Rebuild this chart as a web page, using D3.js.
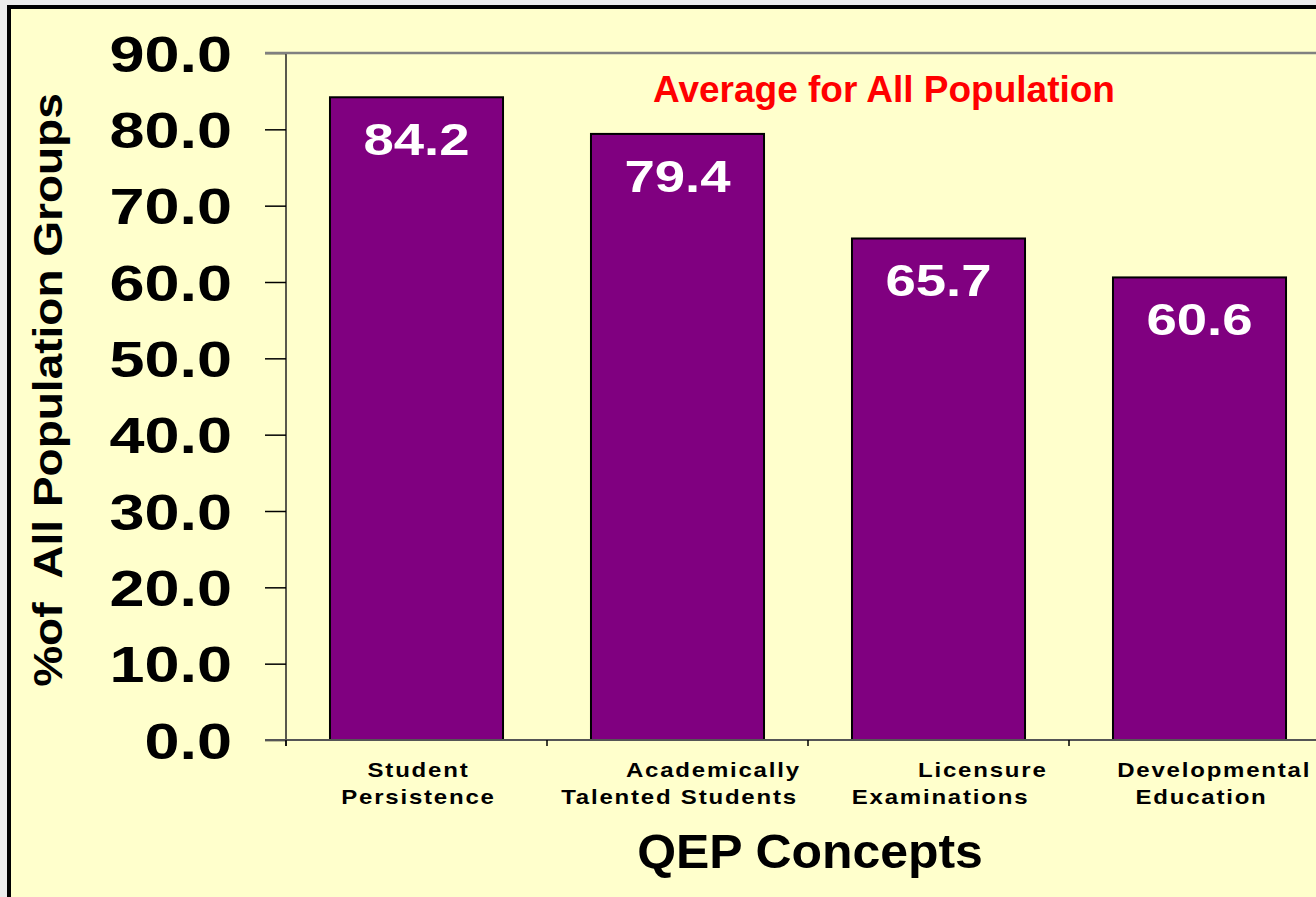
<!DOCTYPE html>
<html>
<head>
<meta charset="utf-8">
<script src="https://cdn.jsdelivr.net/npm/d3@7"></script>
<style>
  html, body { margin: 0; padding: 0; background: #ececec; overflow: hidden; }
  svg { display: block; }
  text { font-family: Arial, "Liberation Sans", sans-serif; font-weight: bold; white-space: pre; }
</style>
</head>
<body>
<svg id="chart" width="1316" height="897"></svg>
<script>
// QEP concept averages across all population groups
const categories = [
  "Student Persistence",
  "Academically Talented Students",
  "Licensure Examinations",
  "Developmental Education"
];
const values = [84.2, 79.4, 65.7, 60.6];
// wrapped axis label lines (leading spaces kept as in the workbook labels)
const categoryLines = [
  ["Student", "Persistence"],
  ["\u00a0\u00a0\u00a0\u00a0\u00a0\u00a0\u00a0\u00a0Academically", "Talented Students"],
  ["\u00a0\u00a0\u00a0\u00a0\u00a0\u00a0\u00a0\u00a0\u00a0\u00a0Licensure", "Examinations"],
  ["\u00a0\u00a0\u00a0Developmental", "Education"]
];
const yTicks = [0, 10, 20, 30, 40, 50, 60, 70, 80, 90];
const chartTitle = "Average for All Population";
const xTitle = "QEP Concepts";
const yTitle = "%of  All Population Groups";

const svg = d3.select("#chart");
const W = 1316, H = 897;

// frame
svg.append("rect")
  .attr("x", 9).attr("y", 7)
  .attr("width", W + 20).attr("height", H + 20)
  .attr("fill", "#FFFFCC")
  .attr("stroke", "#000").attr("stroke-width", 4);

const plotLeft = 286, plotRight = 1330, plotTop = 53, plotBottom = 740;

const x = d3.scaleBand()
  .domain(categories)
  .range([plotLeft, plotRight])
  .paddingInner(0.337)
  .paddingOuter(0.337 / 2);

const y = d3.scaleLinear()
  .domain([0, 90])
  .range([plotBottom, plotTop]);

// bars
svg.append("g").selectAll("rect")
  .data(categories)
  .join("rect")
  .attr("x", d => x(d))
  .attr("y", (d, i) => y(values[i]))
  .attr("width", x.bandwidth())
  .attr("height", (d, i) => y(0) - y(values[i]))
  .attr("fill", "#800080")
  .attr("stroke", "#000")
  .attr("stroke-width", 2);

// value labels inside bars
svg.append("g").selectAll("text")
  .data(categories)
  .join("text")
  .attr("transform", (d, i) => `translate(${x(d) + x.bandwidth() / 2},${y(values[i]) + 58}) scale(1.24,1)`)
  .attr("text-anchor", "middle")
  .attr("fill", "#fff")
  .attr("font-size", 44)
  .text((d, i) => values[i].toFixed(1));

// y axis
const yAxis = svg.append("g")
  .attr("transform", `translate(${plotLeft},0)`)
  .call(d3.axisLeft(y).tickValues(yTicks).tickSize(21).tickFormat(d3.format(".1f")));
yAxis.select(".domain").attr("stroke", "#222").attr("stroke-width", 1.5).attr("d", `M0,${plotTop}V${plotBottom + 6}`);
yAxis.selectAll(".tick line").attr("stroke", "#000").attr("stroke-width", 1.5);
yAxis.selectAll(".tick text")
  .attr("x", null).attr("dy", null)
  .attr("text-anchor", "end")
  .attr("fill", "#000")
  .attr("font-size", 50)
  .attr("font-family", null)
  .attr("transform", "translate(-54,18) scale(1.26,1)");

// x axis
const xAxis = svg.append("g")
  .attr("transform", `translate(0,${plotBottom})`)
  .call(d3.axisBottom(x).tickSize(0).tickFormat(""));
xAxis.select(".domain").attr("stroke", "#555").attr("stroke-width", 2).attr("d", `M${plotLeft - 21},0H${W}`);
xAxis.selectAll(".tick").remove();

// category separators below the axis
const step = x.step();
svg.append("g").selectAll("line")
  .data(d3.range(categories.length + 1))
  .join("line")
  .attr("x1", i => plotLeft + i * step).attr("x2", i => plotLeft + i * step)
  .attr("y1", plotBottom).attr("y2", plotBottom + 6)
  .attr("stroke", "#000").attr("stroke-width", 1.5);

// plot area top border
svg.append("line")
  .attr("x1", plotLeft - 21).attr("x2", W)
  .attr("y1", plotTop).attr("y2", plotTop)
  .attr("stroke", "#808080").attr("stroke-width", 2.5);

// category labels
const catG = svg.append("g").selectAll("g")
  .data(categories)
  .join("g");
catG.each(function (d, i) {
  const g = d3.select(this);
  categoryLines[i].forEach((line, j) => {
    g.append("text")
      .attr("transform", `translate(${x(d) + x.bandwidth() / 2 + 2},${777 + j * 26.5}) scale(1.2,1)`)
      .attr("text-anchor", "middle")
      .attr("font-size", 20)
      .attr("letter-spacing", 1.5)
      .attr("fill", "#000")
      .text(line);
  });
});

// titles
svg.append("text")
  .attr("x", 884).attr("y", 102)
  .attr("text-anchor", "middle")
  .attr("font-size", 37)
  .attr("fill", "#FF0000")
  .text(chartTitle);

svg.append("text")
  .attr("transform", `translate(${(plotLeft + plotRight) / 2 + 2},868) scale(1.04,1)`)
  .attr("text-anchor", "middle")
  .attr("font-size", 48)
  .attr("fill", "#000")
  .text(xTitle);

svg.append("text")
  .attr("transform", "translate(62,390) rotate(-90) scale(1.15,1)")
  .attr("text-anchor", "middle")
  .attr("font-size", 40)
  .attr("fill", "#000")
  .text(yTitle);
</script>
</body>
</html>
